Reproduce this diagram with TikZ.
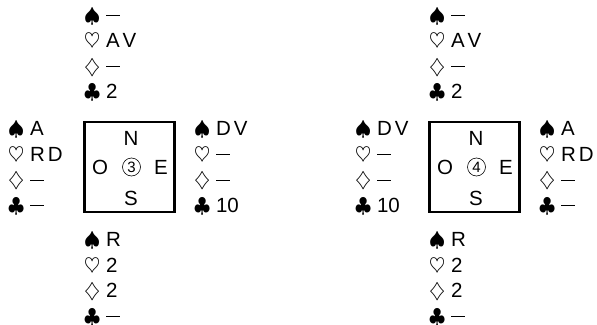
\documentclass[tikz,border=0pt]{standalone}
\usepackage{fontspec}
\setmainfont{Liberation Sans}
\newcommand\hdash{\raisebox{6pt}{\rule{13.5pt}{0.9pt}}}
\newcommand\pr[2]{#1\kern3pt#2}
\newcommand\handat[7]{%
  \node[handline] (#1s) at (#2,#3) {$\spadesuit$ #4};
  \node[handline] (#1h) at (#2,#3+25.5) {$\heartsuit$ #5};
  \node[handline] (#1d) at (#2,#3+51) {$\diamondsuit$ #6};
  \node[handline] (#1c) at (#2,#3+76.5) {$\clubsuit$ #7};
}
\begin{document}
\begin{tikzpicture}[x=1pt,y=-1pt,
  handline/.style={anchor=base west,inner sep=0pt,font=\fontsize{20.5}{20.5}\selectfont},
  dirlbl/.style={anchor=base,inner sep=0pt,font=\fontsize{20.5}{20.5}\selectfont},
  table/.style={draw,line width=2.2pt,minimum width=90pt,minimum height=90pt,inner sep=0pt,outer sep=0pt},
  trick/.style={circle,draw,line width=0.6pt,minimum size=18pt,inner sep=0pt,font=\fontsize{15}{15}\selectfont}]
\useasboundingbox (0,0) rectangle (597,324);
% left diagram
\node[table] (boxA) at (129.5,167) {};
\node[dirlbl] (nA) at (131,145) {N};
\node[dirlbl] (sA) at (131,205) {S};
\node[dirlbl] (oA) at (100,174) {O};
\node[dirlbl] (eA) at (161,174) {E};
\node[trick] (tA) at (131.5,167) {3};
\handat{AN}{84}{22}{\hdash}{\pr AV}{\hdash}{2}
\handat{AW}{8}{135.5}{A}{\pr RD}{\hdash}{\hdash}
\handat{AE}{194}{135.5}{\pr DV}{\hdash}{\hdash}{10}
\handat{AS}{84}{246.5}{R}{2}{2}{\hdash}
% right diagram
\node[table] (boxB) at (474.5,167) {};
\node[dirlbl] (nB) at (476,145) {N};
\node[dirlbl] (sB) at (476,205) {S};
\node[dirlbl] (oB) at (445,174) {O};
\node[dirlbl] (eB) at (506,174) {E};
\node[trick] (tB) at (476.5,167) {4};
\handat{BN}{429}{22}{\hdash}{\pr AV}{\hdash}{2}
\handat{BW}{355}{135.5}{\pr DV}{\hdash}{\hdash}{10}
\handat{BE}{539}{135.5}{A}{\pr RD}{\hdash}{\hdash}
\handat{BS}{429}{246.5}{R}{2}{2}{\hdash}
\end{tikzpicture}
\end{document}
